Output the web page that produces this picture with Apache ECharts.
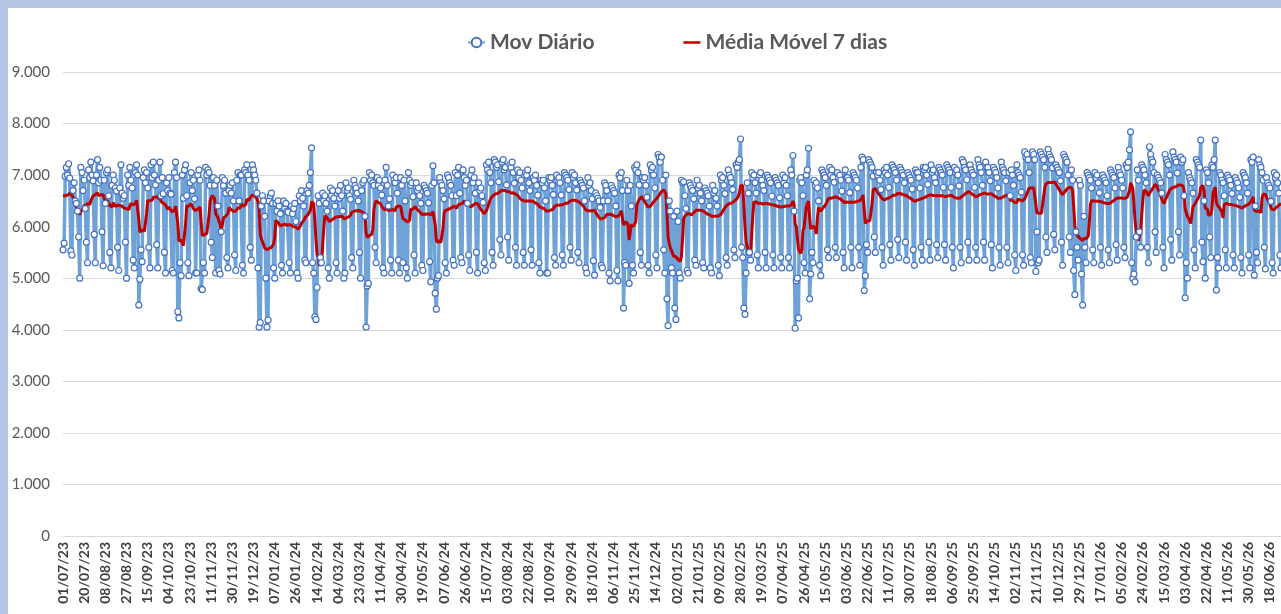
<!DOCTYPE html>
<html>
<head>
<meta charset="utf-8">
<title>Mov Diário</title>
<script src="https://cdn.jsdelivr.net/npm/echarts@6/dist/echarts.min.js"></script>
<style>
  html, body { margin: 0; padding: 0; background: #fff; }
  #grafico { position: absolute; left: 0; top: 0; width: 1281px; height: 614px; }
  .borda { position: absolute; background: #b4c7e7; z-index: 2; }
</style>
</head>
<body>
<div id="grafico"></div>
<div class="borda" style="left:0;top:0;width:8px;height:614px"></div>
<div class="borda" style="left:0;top:0;width:1281px;height:8px"></div>
<script>
// 6 dias antes de 01/07/23 (25/06 a 30/06) - so entram no calculo da media movel
var diasAnteriores = [5600, 7050, 6980, 7100, 7020, 6900];

// movimento diario a partir de 01/07/23 (sab), uma linha por semana seg..dom
var movDiario = [
  5550, 5680,
  6980, 7150, 7000, 7220, 6940, 5530, 5450,
  6700, 6850, 6500, 6450, 6300, 5800, 5000,
  7150, 7050, 6700, 6900, 6350, 5700, 5300,
  7100, 6950, 7250, 7000, 6890, 5850, 5300,
  7000, 7300, 6850, 7150, 6900, 5900, 5240,
  6900, 6450, 7050, 7100, 6600, 5500, 5200,
  6800, 7000, 6900, 6750, 6690, 5600, 5150,
  6750, 7200, 6650, 6550, 6600, 5700, 5000,
  7000, 6800, 7150, 6900, 6750, 5350, 5200,
  7050, 7200, 7000, 4480, 4980, 5550, 5320,
  6950, 7100, 6850, 7050, 6750, 5600, 5200,
  7200, 6950, 7250, 7000, 6810, 5650, 5200,
  6900, 7250, 6600, 6950, 6640, 5500, 5100,
  6850, 6700, 6950, 6650, 6630, 5150, 5100,
  7050, 7250, 6950, 4350, 4230, 5300, 5050,
  7000, 6550, 7100, 7200, 6600, 5300, 5050,
  6850, 7050, 6700, 6900, 6540, 5100, 5100,
  7000, 7100, 6900, 4800, 4780, 5300, 5100,
  7150, 7000, 7100, 7050, 6800, 5700, 5400,
  6950, 6800, 5100, 6900, 6400, 5150, 5080,
  5900, 6950, 6800, 6900, 6650, 5400, 5200,
  6700, 6800, 6650, 6850, 6500, 5450, 5150,
  6900, 7050, 6500, 7000, 7000, 5250, 5100,
  7100, 7050, 7200, 7000, 6900, 5600, 5350,
  7200, 7100, 7000, 6900, 6650, 5200, 4050,
  4140, 6400, 6600, 6500, 6200, 5000, 4050,
  4190, 6500, 6600, 6650, 6450, 5200, 5000,
  6450, 6300, 6500, 6400, 6250, 5250, 5100,
  6500, 6350, 6450, 6300, 6280, 5300, 5100,
  6400, 6250, 6350, 6450, 6100, 5100, 5000,
  6600, 6500, 6700, 6550, 6400, 5350, 5300,
  6700, 6650, 6800, 7050, 7530, 5300, 5100,
  4250, 4200, 4820, 6600, 6450, 5400, 5300,
  6650, 6500, 6600, 6450, 6300, 5200, 5000,
  6750, 6600, 6700, 6550, 6400, 5300, 5100,
  6700, 6550, 6800, 6600, 6300, 5000, 5100,
  6850, 6700, 6750, 6600, 6530, 5400, 5200,
  6900, 6800, 6750, 6650, 6500, 5500, 5000,
  6700, 6850, 6900, 6200, 4050, 4850, 4900,
  7050, 6900, 7000, 6850, 6800, 5600, 5300,
  6950, 6800, 6900, 6750, 6610, 5200, 5100,
  6900, 7150, 6800, 6400, 6540, 5350, 5100,
  7000, 6900, 6850, 6950, 6650, 5350, 5100,
  6950, 6800, 5300, 6900, 6500, 5200, 5000,
  7050, 6900, 6800, 6850, 6580, 5450, 5100,
  6850, 6700, 6750, 6600, 6450, 5250, 5150,
  6800, 6750, 6700, 6650, 6460, 5320, 4930,
  6800, 7180, 6850, 4710, 4400, 5000, 5050,
  6950, 6850, 6800, 6700, 6540, 5300, 5100,
  7000, 6950, 6850, 6800, 6600, 5350, 5250,
  7050, 6600, 7000, 7150, 6650, 5400, 5300,
  7100, 6950, 6800, 6900, 6450, 5450, 5150,
  7000, 7100, 6850, 6950, 6650, 5500, 5100,
  6850, 6700, 6750, 6600, 6470, 5300, 5150,
  7200, 7100, 7250, 7050, 6850, 5500, 5250,
  7300, 7250, 7150, 7200, 6870, 5750, 5450,
  7250, 7300, 7100, 7150, 6810, 5800, 5350,
  7200, 7150, 7250, 7050, 6840, 5600, 5250,
  7100, 6950, 7050, 6900, 6750, 5500, 5250,
  7050, 7000, 7100, 6850, 6700, 5550, 5250,
  6950, 6900, 7000, 6800, 6610, 5300, 5100,
  6900, 6850, 6900, 6750, 6500, 5100, 5100,
  6950, 6900, 6950, 6800, 6620, 5400, 5250,
  7000, 6900, 6950, 6850, 6610, 5450, 5250,
  7050, 7000, 6950, 6900, 6720, 5600, 5350,
  7050, 6950, 7000, 6850, 6710, 5500, 5300,
  6900, 6850, 6800, 6750, 6500, 5200, 5100,
  6950, 6800, 6850, 6700, 6540, 5340, 5060,
  6650, 6600, 6550, 6500, 6370, 5250, 5200,
  6500, 6850, 6800, 6700, 6500, 5100, 4950,
  6800, 6750, 6700, 6650, 6400, 5150, 4950,
  7000, 6950, 7050, 6700, 4420, 5300, 5250,
  6900, 6700, 4900, 6800, 6400, 5250, 5100,
  7150, 7100, 7200, 7050, 6810, 5500, 5250,
  6950, 6900, 6950, 6800, 6570, 5250, 5100,
  7200, 7100, 7150, 7000, 6750, 5450, 5200,
  7400, 7350, 7250, 7350, 6900, 5550, 5100,
  7000, 4600, 4080, 6500, 6300, 5200, 5100,
  6200, 4420, 4200, 6300, 6100, 5100, 5000,
  6900, 6850, 6870, 6600, 6350, 5150, 5100,
  6850, 6800, 6750, 6700, 6540, 5350, 5250,
  6900, 6750, 6800, 6650, 6500, 5300, 5200,
  6750, 6700, 6650, 6600, 6400, 5200, 5100,
  6800, 6650, 6700, 6550, 6400, 5250, 5050,
  7000, 6900, 6950, 6800, 6640, 5400, 5250,
  7100, 7000, 6950, 6850, 6720, 5550, 5400,
  7200, 7150, 7250, 7300, 7700, 5600, 5400,
  4420, 4300, 5100, 6850, 6650, 5500, 5350,
  7050, 6950, 7000, 6850, 6650, 5450, 5200,
  7000, 7050, 6900, 6800, 6700, 5500, 5200,
  7000, 6950, 6900, 6850, 6590, 5450, 5200,
  6950, 6900, 6850, 6800, 6560, 5400, 5200,
  7000, 6850, 6950, 6800, 6600, 5400, 5200,
  7100, 7000, 7380, 6300, 4030, 4950, 5000,
  4230, 6900, 6950, 6850, 6600, 5300, 5100,
  7000, 7100, 7520, 4600, 5080, 5500, 5300,
  6900, 6800, 6850, 6750, 6500, 5250, 5050,
  7100, 7050, 7000, 6950, 6800, 5550, 5400,
  7150, 7000, 7100, 6950, 6860, 5600, 5400,
  7050, 6950, 7000, 6900, 6690, 5500, 5200,
  7100, 6950, 6950, 6900, 6660, 5600, 5200,
  7050, 7000, 6950, 6900, 6750, 5600, 5250,
  7150, 7350, 7300, 4760, 5050, 5650, 5500,
  7300, 7250, 7200, 7150, 6980, 5800, 5500,
  7050, 7000, 7050, 6900, 6720, 5600, 5250,
  7100, 7050, 7150, 7000, 6760, 5650, 5350,
  7200, 7150, 7100, 7050, 6900, 5750, 5400,
  7150, 7100, 7050, 7000, 6850, 5700, 5350,
  7050, 7000, 6950, 6900, 6730, 5550, 5250,
  7100, 7050, 7050, 6950, 6750, 5600, 5350,
  7150, 7100, 7150, 7000, 6820, 5700, 5350,
  7200, 7050, 7100, 6950, 6850, 5650, 5400,
  7150, 7100, 7050, 7000, 6760, 5650, 5350,
  7200, 7150, 7100, 7050, 6760, 5600, 5200,
  7150, 7050, 7100, 7000, 6790, 5600, 5300,
  7300, 7250, 7150, 7100, 6910, 5700, 5350,
  7200, 7100, 7050, 7000, 6760, 5600, 5350,
  7300, 7200, 7150, 7050, 6800, 5700, 5350,
  7250, 7150, 7150, 7050, 6890, 5650, 5200,
  7150, 7100, 7050, 6950, 6750, 5600, 5250,
  7250, 7150, 7100, 7050, 6890, 5600, 5300,
  7050, 6600, 7100, 7000, 6800, 5450, 5150,
  7200, 7050, 7000, 6950, 6670, 5450, 5250,
  7450, 7350, 7400, 7300, 7050, 5400, 5300,
  7450, 7400, 7300, 5130, 5900, 5300, 5350,
  7450, 7400, 7350, 7300, 7150, 5800, 5500,
  7500, 7400, 7350, 7300, 7140, 5850, 5550,
  7200, 7150, 7100, 7050, 6890, 5700, 5250,
  7400, 7350, 7300, 7250, 7000, 5800, 5500,
  7100, 6900, 5150, 4680, 5900, 5600, 5350,
  6900, 6800, 5080, 4480, 6200, 5600, 5300,
  7050, 7000, 6950, 6900, 6750, 5550, 5300,
  7050, 6950, 7000, 6850, 6660, 5600, 5250,
  7000, 6950, 6900, 6850, 6600, 5550, 5300,
  7100, 7050, 7000, 6950, 6750, 5650, 5350,
  7150, 7050, 7000, 6900, 6750, 5600, 5400,
  7200, 7150, 7250, 7490, 7840, 5300, 5000,
  5080, 4930, 5800, 7100, 6900, 5900, 5600,
  7200, 7150, 7100, 7000, 6850, 5600, 5300,
  7550, 7400, 7300, 7250, 7050, 5900, 5500,
  7000, 6950, 6900, 6850, 6650, 5600, 5200,
  7400, 7300, 7250, 7200, 7000, 5750, 5350,
  7450, 7350, 7300, 7250, 7040, 5900, 5450,
  7350, 7250, 7300, 6600, 4620, 5300, 5000,
  7050, 6950, 6900, 6850, 6650, 5550, 5200,
  7300, 7250, 7200, 7150, 7680, 5700, 5320,
  6500, 5000, 7100, 7050, 6850, 5800, 5400,
  7200, 7150, 7300, 7680, 4770, 5400, 5200,
  7050, 7000, 6900, 6850, 6600, 5550, 5200,
  7000, 6950, 6900, 6800, 6640, 5450, 5200,
  6950, 6900, 6850, 6750, 6570, 5400, 5100,
  7050, 7000, 6950, 6850, 6650, 5450, 5200,
  7300, 7250, 7350, 5060, 6400, 5500, 5300,
  7300, 7200, 7150, 7050, 6900, 5600, 5180,
  6950, 6850, 6800, 6750, 6490, 5300, 5100,
  7050, 6950, 7000, 6850, 6650, 5450, 5200
];

// media movel de 7 dias (janela que termina no proprio dia)
var todos = diasAnteriores.concat(movDiario);
var media7 = movDiario.map(function (v, i) {
  var s = 0;
  for (var j = i; j < i + 7; j++) s += todos[j];
  return Math.round(s / 7);
});

// datas dd/mm/aa a partir de 01/07/23
function dois(n) { return n < 10 ? '0' + n : '' + n; }
var datas = [];
var inicio = Date.UTC(2023, 6, 1);
for (var i = 0; i < movDiario.length; i++) {
  var d = new Date(inicio + i * 86400000);
  datas.push(dois(d.getUTCDate()) + '/' + dois(d.getUTCMonth() + 1) + '/' + String(d.getUTCFullYear()).slice(2));
}

function milhar(v) {
  return String(v).replace(/\B(?=(\d{3})+(?!\d))/g, '.');
}

var myChart = echarts.init(document.getElementById('grafico'));
var option = {
  animation: false,
  backgroundColor: '#fff',
  textStyle: { fontFamily: 'Lato' },
  legend: {
    top: 27,
    left: 462,
    itemGap: 89,
    itemWidth: 17,
    itemHeight: 12,
    textStyle: { fontSize: 21, fontWeight: 'bold', color: '#595959', fontFamily: 'Lato' },
    data: [
      { name: 'Mov Diário' },
      { name: 'Média Móvel 7 dias', icon: 'path://M0 0 H20 V3 H0 Z', itemStyle: { color: '#c00000' } }
    ]
  },
  grid: { left: 63, right: 0, top: 72, bottom: 78 },
  xAxis: {
    type: 'category',
    data: datas,
    boundaryGap: false,
    axisTick: { show: false },
    axisLine: { lineStyle: { color: '#d9d9d9' } },
    axisLabel: {
      interval: 18,
      rotate: 90,
      margin: 6,
      fontSize: 14,
      fontWeight: 'bold',
      color: '#404040',
      fontFamily: 'Lato'
    }
  },
  yAxis: {
    type: 'value',
    min: 0,
    max: 9000,
    interval: 1000,
    axisLabel: { formatter: milhar, fontSize: 15, color: '#595959', margin: 13, fontFamily: 'Lato' },
    splitLine: { lineStyle: { color: '#d9d9d9' } },
    axisLine: { show: false },
    axisTick: { show: false }
  },
  series: [
    {
      name: 'Mov Diário',
      type: 'line',
      data: movDiario,
      symbol: 'circle',
      symbolSize: 6,
      showAllSymbol: true,
      lineStyle: { color: '#6fa3d8', width: 3.5 },
      itemStyle: { color: '#ffffff', borderColor: '#4472c4', borderWidth: 1.2 },
      emphasis: { disabled: true }
    },
    {
      name: 'Média Móvel 7 dias',
      type: 'line',
      data: media7,
      symbol: 'none',
      lineStyle: { color: '#c00000', width: 3 },
      itemStyle: { color: '#c00000' },
      emphasis: { disabled: true },
      z: 3
    }
  ]
};
myChart.setOption(option);
</script>
</body>
</html>
